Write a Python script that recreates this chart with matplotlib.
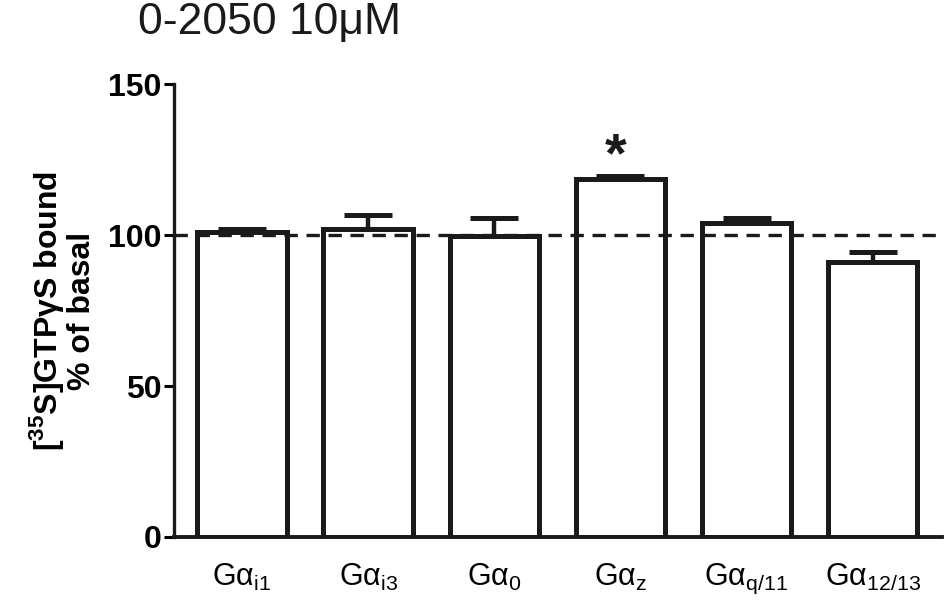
import matplotlib
matplotlib.use("Agg")
import matplotlib.pyplot as plt
import numpy as np

plt.rcParams['font.family'] = ['Liberation Sans', 'DejaVu Sans']
plt.rcParams['mathtext.fontset'] = 'custom'
plt.rcParams['mathtext.rm'] = 'Liberation Sans'
plt.rcParams['mathtext.bf'] = 'Liberation Sans:bold'

# data
labels = ['Gα$_{\\mathregular{i1}}$', 'Gα$_{\\mathregular{i3}}$',
          'Gα$_{\\mathregular{0}}$', 'Gα$_{\\mathregular{z}}$',
          'Gα$_{\\mathregular{q/11}}$', 'Gα$_{\\mathregular{12/13}}$']
values = [101.0, 102.0, 99.8, 118.6, 104.1, 91.1]
errors = [1.0, 4.6, 5.8, 1.0, 1.5, 3.4]
significant = [False, False, False, True, False, False]

x = np.arange(len(values))

fig = plt.figure(figsize=(9.51, 6.01), dpi=100)
ax = fig.add_axes([0.183, 0.1065, 0.8075, 0.7535])

ax.bar(x, values, width=0.71, color='white', edgecolor='#1a1a1a', linewidth=3.6, zorder=3)
ax.errorbar(x, values, yerr=[np.zeros(len(errors)), errors], fmt='none',
            ecolor='#1a1a1a', elinewidth=3.2, capsize=17, capthick=3.6, zorder=2)
ax.axhline(100, color='#1a1a1a', linestyle=(0, (4, 2.6)), linewidth=2.4, zorder=4)

# significance star
for xi, v, e, s in zip(x, values, errors, significant):
    if s:
        ax.text(xi - 0.04, v + e - 2.5, '*', ha='center', va='bottom',
                fontsize=40, fontweight='bold', color='#1a1a1a')

ax.set_xlim(-0.54, 5.55)
ax.set_ylim(0, 150)
ax.set_yticks([0, 50, 100, 150])
ax.set_xticks(x)
ax.set_xticklabels(labels, fontsize=22)
ax.tick_params(axis='x', length=0, pad=18)
ax.tick_params(axis='y', length=7, width=2.2, labelsize=23, pad=2)
for lab in ax.get_yticklabels():
    lab.set_fontweight('bold')

ax.spines[['top', 'right']].set_visible(False)
ax.spines['left'].set_linewidth(2.4)
ax.spines['bottom'].set_linewidth(2.8)
for sp in ax.spines.values():
    sp.set_color('#1a1a1a')

ax.set_ylabel('[$^{\\mathregular{35}}$S]GTPγS bound\n% of basal', fontsize=23,
              fontweight='bold', linespacing=1.05, labelpad=8)

fig.text(0.145, 0.962, '0-2050 10μM', fontsize=32, va='center', ha='left', color='#1a1a1a')

fig.savefig('out.png', dpi=100)
